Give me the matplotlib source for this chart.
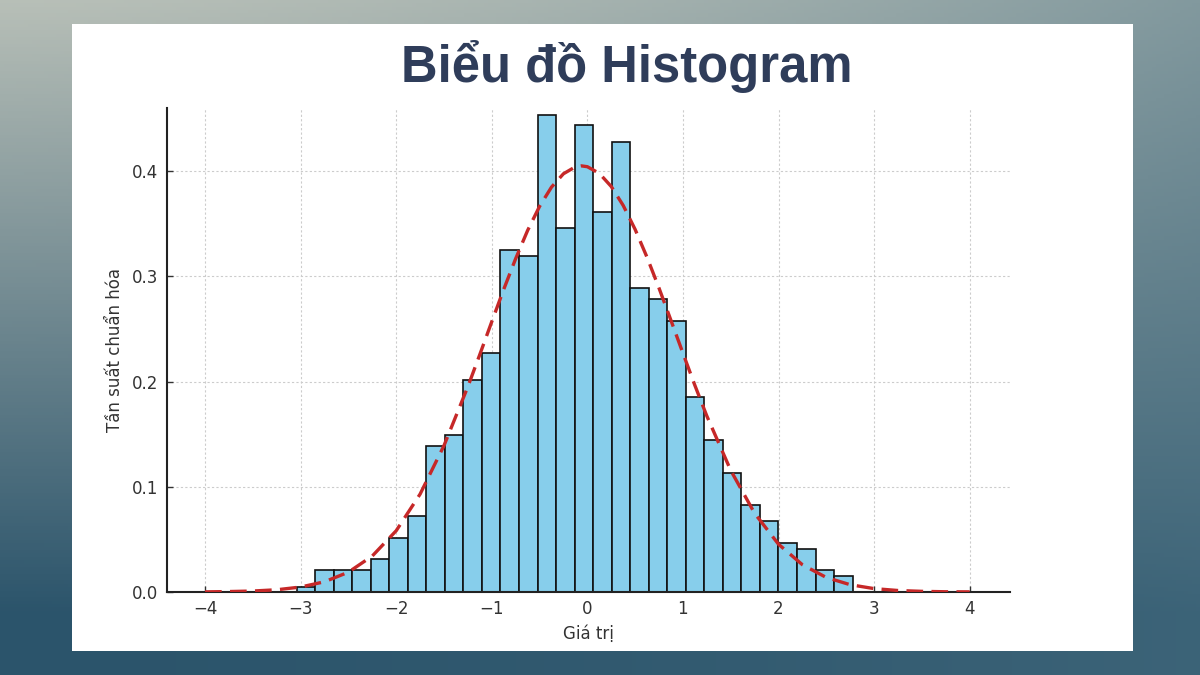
import numpy as np
import matplotlib.pyplot as plt

# Bin edges (30 bins) and normalised heights
bin_start = -3.042
bin_width = 0.1939
densities = [0.0052, 0.0206, 0.0206, 0.0206, 0.0310, 0.0516, 0.0722, 0.1392,
             0.1496, 0.2011, 0.2269, 0.3249, 0.3198, 0.4538, 0.3455, 0.4435,
             0.3610, 0.4280, 0.2888, 0.2785, 0.2579, 0.1857, 0.1444, 0.1135,
             0.0825, 0.0670, 0.0464, 0.0413, 0.0206, 0.0155]

# Fitted normal curve
curve_x = [-4.0, -3.75, -3.5, -3.25, -3.0, -2.75, -2.5, -2.25, -2.0, -1.75,
           -1.5, -1.25, -1.125, -1.0, -0.875, -0.75, -0.625, -0.5, -0.375,
           -0.25, -0.125, -0.0625, 0.0, 0.125, 0.25, 0.375, 0.5, 0.625, 0.75,
           0.875, 1.0, 1.125, 1.25, 1.5, 1.75, 2.0, 2.25, 2.5, 2.75, 3.0,
           3.25, 3.5, 3.75, 4.0]
curve_y = [0.0001, 0.0004, 0.0009, 0.0021, 0.0047, 0.0097, 0.0188, 0.0342,
           0.0582, 0.0930, 0.1391, 0.1952, 0.2257, 0.2569, 0.2876, 0.3168,
           0.3436, 0.3665, 0.3848, 0.3975, 0.4041, 0.4050, 0.4042, 0.3979,
           0.3854, 0.3674, 0.3446, 0.3180, 0.2888, 0.2581, 0.2270, 0.1964,
           0.1673, 0.1156, 0.0748, 0.0454, 0.0259, 0.0138, 0.0069, 0.0032,
           0.0014, 0.0006, 0.0002, 0.0001]

x_ticks = [-4, -3, -2, -1, 0, 1, 2, 3, 4]
y_ticks = [0.0, 0.1, 0.2, 0.3, 0.4]

fig = plt.figure(figsize=(12, 6.75), dpi=100)

# backdrop: soft grey-teal gradient behind the white card
bg = fig.add_axes([0, 0, 1, 1])
gy, gx = np.mgrid[0:1:200j, 0:1:300j]
top = np.array([0.72, 0.75, 0.72])
bottom = np.array([0.17, 0.33, 0.42])
right = np.array([0.30, 0.45, 0.52])
t = np.clip(gy * 1.1, 0, 1)[..., None]
s = (gx ** 1.5)[..., None] * 0.5
img = top * (1 - t) + bottom * t
img = img * (1 - s) + right * s
bg.imshow(img, aspect='auto', extent=[0, 1, 0, 1], origin='upper')
bg.add_patch(plt.Rectangle((72 / 1200, 1 - 651 / 675), 1061 / 1200, 627 / 675,
                           facecolor='white', edgecolor='none'))
bg.set_xlim(0, 1)
bg.set_ylim(0, 1)
bg.axis('off')

fig.text(0.522, 0.878, 'Biểu đồ Histogram', ha='center', va='baseline',
         fontsize=36.5, fontweight='bold', color='#2f3d5a', family='Liberation Sans')

ax = fig.add_axes([0.139, 0.123, 0.7025, 0.717])
edges = bin_start + bin_width * np.arange(len(densities))
ax.bar(edges, densities, width=bin_width, align='edge', color='#87ceeb',
       edgecolor='#111111', linewidth=1.2, zorder=2)
ax.plot(curve_x, curve_y, color='#c62828', linestyle=(0, (5, 2.5)),
        linewidth=2.4, zorder=3)

ax.set_xlim(-4.4, 4.42)
ax.set_ylim(0, 0.46)
ax.set_xticks(x_ticks)
ax.set_yticks(y_ticks)
ax.set_xticklabels([f'{v}' if v >= 0 else f'\u2212{-v}' for v in x_ticks])
ax.set_yticklabels([f'{v:.1f}' for v in y_ticks])
ax.tick_params(direction='in', length=4, width=1, labelsize=12,
               colors='#333333', pad=6)
ax.grid(True, linestyle=(0, (2, 2)), color='#cccccc', linewidth=0.8, zorder=0)
ax.set_axisbelow(True)
for side in ['top', 'right']:
    ax.spines[side].set_visible(False)
for side in ['left', 'bottom']:
    ax.spines[side].set_color('#222222')
    ax.spines[side].set_linewidth(1.5)
ax.set_xlabel('Giá trị', fontsize=12, color='#333333', labelpad=5)
ax.set_ylabel('Tần suất chuẩn hóa', fontsize=12, color='#333333', labelpad=6)

fig.savefig('out.png', dpi=100)
